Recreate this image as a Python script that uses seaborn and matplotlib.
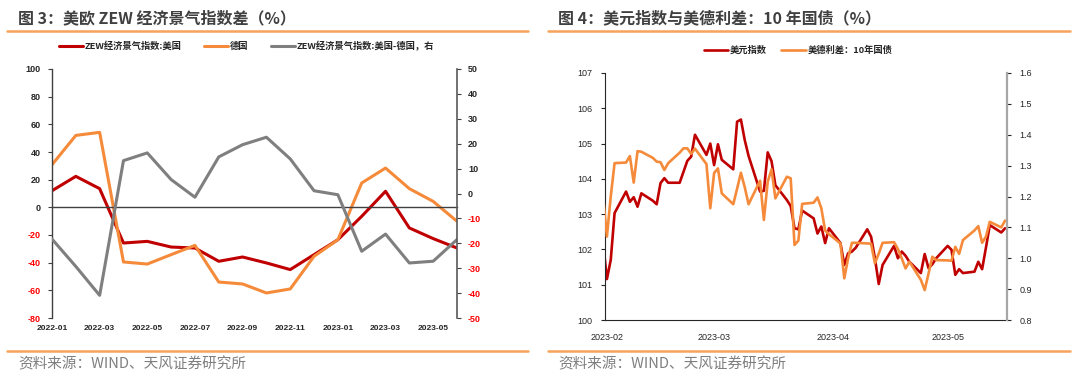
import pandas as pd
import matplotlib
matplotlib.use('Agg')
import matplotlib.pyplot as plt
import matplotlib.dates as mdates
from matplotlib.lines import Line2D
import seaborn as sns

# ---------------- 图3: monthly ZEW data ----------------
months = ['2022-01', '2022-02', '2022-03', '2022-04', '2022-05', '2022-06',
          '2022-07', '2022-08', '2022-09', '2022-10', '2022-11', '2022-12',
          '2023-01', '2023-02', '2023-03', '2023-04', '2023-05', '2023-06']
zew_us = [12.0, 22.4, 13.5, -25.8, -24.6, -28.7, -29.4, -39.0, -35.9, -40.2,
          -45.0, -34.2, -23.4, -6.5, 11.6, -14.9, -22.6, -29.4]
zew_de = [30.8, 52.0, 54.2, -39.5, -41.0, -34.2, -27.5, -54.0, -55.4, -61.9,
          -59.0, -35.4, -23.4, 17.6, 28.4, 13.5, 4.3, -10.1]
zew_gap = [-18.3, -29.3, -40.9, 13.2, 16.3, 5.6, -1.5, 14.7, 19.6, 22.6,
           13.9, 1.1, -0.5, -23.2, -16.3, -27.9, -27.2, -18.5]

# ---------------- 图4: daily DXY and US-DE 10y spread ----------------
days = pd.bdate_range('2023-01-31', '2023-05-16')
dxy = [102.2,
       101.16, 101.70, 103.03, 103.64, 103.35, 103.48, 103.21, 103.59, 103.38, 103.28,
       103.88, 104.02, 103.89, 103.89, 104.20, 104.51, 104.63, 105.25, 104.68, 105.00,
       104.39, 104.98, 104.54, 104.27, 105.62, 105.68, 105.10, 104.65, 103.64, 103.66,
       104.75, 104.50, 103.82, 103.40, 103.23, 102.60, 102.57, 103.10, 102.88, 102.45,
       102.65, 102.18, 102.60,
       102.18, 101.56, 101.89, 101.94, 102.05, 102.57, 102.36, 101.75, 101.02, 101.56,
       102.10, 101.75, 101.94, 101.82, 101.65, 101.33, 101.87, 101.47, 101.58, 101.75,
       102.10, 101.99, 101.28, 101.44, 101.33, 101.37, 101.65, 101.44, 102.05, 102.69,
       102.48, 102.60]
spread = [1.20,
          1.070, 1.200, 1.308, 1.310, 1.331, 1.245, 1.347, 1.345, 1.325, 1.313,
          1.311, 1.286, 1.308, 1.342, 1.356, 1.356, 1.338, 1.355, 1.305, 1.162,
          1.276, 1.291, 1.210, 1.175, 1.225, 1.277, 1.230, 1.175, 1.251, 1.124,
          1.248, 1.288, 1.194, 1.264, 1.259, 1.043, 1.057, 1.176, 1.180, 1.197,
          1.162, 1.090, 1.078,
          1.048, 0.935, 1.000, 1.050, 1.050, 1.048, 1.047, 0.984, 1.015, 1.050,
          1.052, 1.030, 1.000, 0.967, 0.989, 0.930, 0.897, 0.950, 1.005, 0.994,
          0.993, 0.992, 1.037, 1.014, 1.059, 1.090, 1.104, 1.050, 1.070, 1.118,
          1.100, 1.122]

RED = '#C00000'
ORANGE = '#F58B3A'
GRAY = '#7F7F7F'
NEG = '#FF0000'
TXT = '#404040'
BAND = '#F7A35C'

sns.set_style('white')
plt.rcParams['font.family'] = ['Liberation Sans', 'Noto Sans CJK SC', 'DejaVu Sans']
CJK = ['Noto Sans CJK SC', 'DejaVu Sans']

fig = plt.figure(figsize=(10.8, 3.76), dpi=100)
W, H = 1080, 376


def box(x0, y0, x1, y1):
    return [x0 / W, 1 - y1 / H, (x1 - x0) / W, (y1 - y0) / H]


# ---------- left chart ----------
ax1 = fig.add_axes(box(52, 69, 457, 318))
ax2 = ax1.twinx()
pos = list(range(len(months)))
sns.lineplot(x=pos, y=zew_us, ax=ax1, color=RED, lw=2.2, label='ZEW经济景气指数:美国')
sns.lineplot(x=pos, y=zew_de, ax=ax1, color=ORANGE, lw=2.2, label='德国')
sns.lineplot(x=pos, y=zew_gap, ax=ax2, color=GRAY, lw=2.2, label='ZEW经济景气指数:美国-德国，右')

ax1.set_xlim(0, len(months) - 1)
ax1.set_ylim(-80, 100)
ax2.set_ylim(-50, 50)
for a in (ax1, ax2):
    a.set_xlabel('')
    a.set_ylabel('')
    a.spines['top'].set_visible(False)
ax1.spines['right'].set_visible(False)
ax2.spines['left'].set_visible(False)
ax2.spines['bottom'].set_visible(False)
ax1.spines['bottom'].set_position(('data', 0))
for s in ('left', 'bottom'):
    ax1.spines[s].set_color('#404040')
    ax1.spines[s].set_linewidth(1.0)
ax2.spines['right'].set_color('#595959')
ax2.spines['right'].set_linewidth(1.2)

tick_pos = pos[::2]
ax1.set_xticks(tick_pos)
ax1.tick_params(axis='x', labelbottom=False, length=3, width=0.8, color='#404040', direction='out')
sec = ax1.secondary_xaxis('bottom')
sec.set_xticks(tick_pos, labels=months[::2])
sec.spines['bottom'].set_visible(False)
sec.tick_params(length=0, pad=5)
for t in sec.get_xticklabels():
    t.set_fontsize(6)
    t.set_fontweight('bold')
    t.set_color('#262626')

lt = list(range(-80, 101, 20))
ax1.set_yticks(lt, labels=[str(v) for v in lt])
rt = list(range(-50, 51, 10))
ax2.set_yticks(rt, labels=[str(v) for v in rt])
ax1.tick_params(axis='y', length=3, width=0.8, color='#404040', direction='out', pad=5)
ax2.tick_params(axis='y', length=3, width=0.8, color='#404040', direction='out', pad=5)
for a, vals in ((ax1, lt), (ax2, rt)):
    for t, v in zip(a.get_yticklabels(), vals):
        t.set_fontsize(6.5)
        t.set_fontweight('bold')
        t.set_color(NEG if v < 0 else '#262626')

h1, l1 = ax1.get_legend_handles_labels()
h2, l2 = ax2.get_legend_handles_labels()
for a in (ax1, ax2):
    if a.get_legend() is not None:
        a.get_legend().remove()
ax2.legend(h1 + h2, l1 + l2, loc='center', bbox_to_anchor=(0.48, 1.092), ncol=3,
           frameon=False, handlelength=2.6, handletextpad=0.2, columnspacing=2.4,
           prop={'family': CJK, 'weight': 'bold', 'size': 6.7})

# ---------- right chart ----------
ax3 = fig.add_axes(box(605, 73, 1007, 320))
ax4 = ax3.twinx()
sns.lineplot(x=days, y=dxy, ax=ax3, color=RED, lw=1.9, label='美元指数')
sns.lineplot(x=days, y=spread, ax=ax4, color=ORANGE, lw=1.9, label='美德利差：10年国债')
ax3.set_xlim(pd.Timestamp('2023-01-31 12:00'), pd.Timestamp('2023-05-16 12:00'))
ax3.set_ylim(100, 107)
ax4.set_ylim(0.8, 1.6)
for a in (ax3, ax4):
    a.set_xlabel('')
    a.set_ylabel('')
    a.spines['top'].set_visible(False)
ax3.spines['right'].set_visible(False)
ax4.spines['left'].set_visible(False)
ax4.spines['bottom'].set_visible(False)
ax3.spines['left'].set_color('#262626')
ax3.spines['bottom'].set_color('#262626')
ax4.spines['right'].set_color('#A6A6A6')
ax4.spines['right'].set_linewidth(1.6)
ax3.set_yticks(range(100, 108))
ax4.set_yticks([0.8, 0.9, 1.0, 1.1, 1.2, 1.3, 1.4, 1.5, 1.6])
ax4.yaxis.set_major_formatter(plt.FormatStrFormatter('%.1f'))
ax3.xaxis.set_major_locator(mdates.MonthLocator())
ax3.xaxis.set_major_formatter(mdates.DateFormatter('%Y-%m'))
for a in (ax3, ax4):
    a.tick_params(length=3, width=0.8, color='#262626', direction='out', pad=6,
                  labelsize=6.5, labelcolor='#262626')

h3, l3 = ax3.get_legend_handles_labels()
h4, l4 = ax4.get_legend_handles_labels()
for a in (ax3, ax4):
    if a.get_legend() is not None:
        a.get_legend().remove()
ax4.legend(h3 + h4, l3 + l4, loc='center', bbox_to_anchor=(0.48, 1.093), ncol=2,
           frameon=False, handlelength=2.6, handletextpad=0.2, columnspacing=1.6,
           prop={'family': CJK, 'weight': 'bold', 'size': 6.7})

# ---------- headers and footers ----------
fig.text(18 / W, 1 - 18 / H, '图 3：美欧 ZEW 经济景气指数差（%）', fontsize=11.5,
         fontweight='bold', color=TXT, va='center', family=CJK)
fig.text(558 / W, 1 - 18 / H, '图 4：美元指数与美德利差：10 年国债（%）', fontsize=11.5,
         fontweight='bold', color=TXT, va='center', family=CJK)
for x0, x1 in ((7, 528), (548, 1070)):
    fig.add_artist(Line2D([x0 / W, x1 / W], [1 - 31 / H] * 2, color=BAND, lw=1.8))
    fig.add_artist(Line2D([x0 / W, x1 / W], [1 - 351 / H] * 2, color=BAND, lw=1.8))
for x0 in (18, 558):
    fig.text(x0 / W, 1 - 364 / H, '资料来源：WIND、天风证券研究所', fontsize=10.5,
             color='#7F7F7F', va='center', family=CJK)

fig.savefig('out.png', dpi=100, facecolor='white')
